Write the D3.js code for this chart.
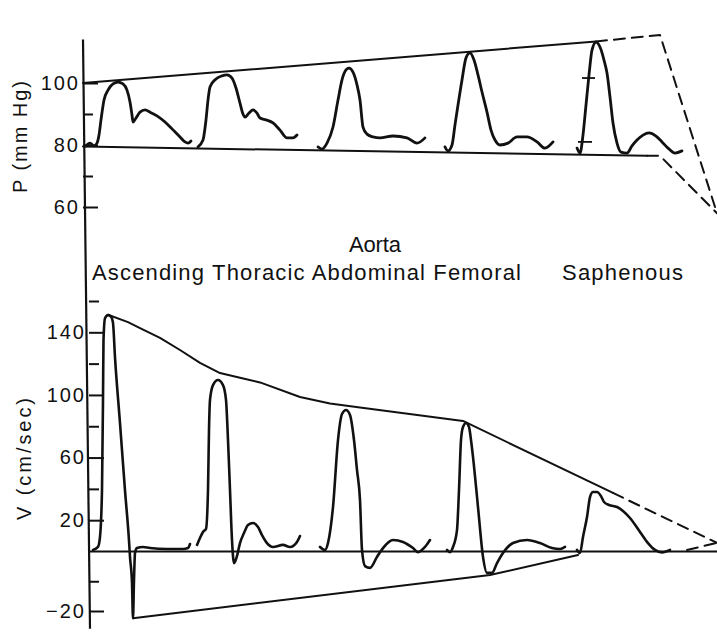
<!DOCTYPE html>
<html>
<head>
<meta charset="utf-8">
<script src="https://cdn.jsdelivr.net/npm/d3@7"></script>
<style>
    body { margin: 0; background: #fff; }
    svg { display: block; font-family: "Liberation Sans", Arial, Helvetica, sans-serif; }
</style>
</head>
<body>
<svg id="chart" width="717" height="637"></svg>
<script>
// sites along the arterial tree
var sites = ["Ascending", "Thoracic", "Abdominal", "Femoral", "Saphenous"];
var groupLabel = "Aorta";

// tick values
var pTicks = [100, 90, 80, 70, 60];
var pLabelled = [100, 80, 60];
var vTicks = [160, 140, 120, 100, 80, 60, 40, 20, -10, -20];
var vLabelled = [140, 100, 60, 20, -20];

// pressure traces, [position along record, mm Hg]
var pAscending = [[3, 79.7], [7, 80.6], [11, 79.7], [14, 80.6], [16, 83.2], [18, 88.1], [21, 94.5], [25, 97.7], [30, 99.7], [35, 100.3], [40, 99.7], [44, 97.7], [47, 93.9], [49, 89.7], [50, 87.4], [53, 88.7], [57, 90.6], [62, 91.3], [67, 90.6], [74, 89.4], [82, 87.4], [89, 85.2], [97, 82.6], [102, 81.0], [105, 80.6], [108, 81.3]];
var pThoracic = [[115, 79.4], [120, 81.6], [123, 88.1], [125, 94.5], [127, 98.7], [133, 101.3], [139, 102.3], [144, 102.6], [149, 101.6], [153, 98.4], [157, 93.5], [160, 90.0], [162, 89.0], [166, 90.3], [170, 91.3], [174, 90.3], [177, 88.7], [183, 88.1], [190, 87.1], [197, 84.8], [204, 82.3], [210, 82.3], [214, 83.2]];
var pAbdominal = [[235, 79.4], [239, 78.7], [244, 80.6], [250, 85.8], [255, 94.5], [259, 101.0], [263, 104.2], [266, 104.8], [270, 103.5], [274, 99.4], [277, 94.5], [280, 85.8], [284, 83.5], [290, 82.6], [297, 82.3], [310, 82.9], [324, 82.3], [334, 80.6], [342, 82.3]];
var pFemoral = [[362, 79.4], [365, 78.1], [369, 80.0], [372, 86.5], [375, 92.9], [379, 101.0], [383, 108.1], [387, 109.7], [391, 107.4], [395, 102.6], [399, 97.1], [404, 90.6], [408, 84.8], [412, 81.6], [417, 80.0], [425, 80.6], [434, 82.6], [444, 82.6], [454, 81.0], [462, 79.0], [470, 81.0]];
var pSaphenous = [[494, 79.0], [497, 77.4], [500, 83.2], [503, 92.9], [506, 102.6], [509, 110.6], [513, 113.2], [517, 111.6], [521, 107.4], [524, 103.2], [527, 95.5], [530, 87.1], [534, 80.6], [538, 77.7], [544, 77.4], [549, 79.7], [554, 81.6], [560, 83.2], [566, 83.9], [573, 82.9], [579, 81.0], [585, 79.0], [592, 77.4], [599, 78.1]];
var pCalMarks = [[499, 512, 101.6], [495, 509, 81.0]];

// pressure envelopes
var pUpper = [[0, 100], [513, 113.4]];
var pUpperDash = [[513, 113.4], [577, 115.5], [634, 58]];
var pLower = [[0, 79.5], [564, 76.5]];
var pLowerDash = [[564, 76.5], [577, 76.5], [634, 58]];

// velocity traces, [position along record, cm/sec]
var vAscending = [[10, 1.0], [15, 2.9], [17, 9.3], [19, 39.3], [20, 96.8], [20.5, 135], [22, 149], [25, 151], [28, 150], [30, 146], [32, 124], [37, 82], [42, 39], [46, 7], [47, -1.8], [49, -10.6], [50, -22.4], [51, -9.6], [52, -0.5], [54, 2.2], [60, 2.9], [67, 2.2], [84, 1.6], [100, 1.6], [105, 2.2], [107, 4.8]];
var vThoracic = [[114, 4.2], [117, 8.6], [120, 12.5], [123, 14.4], [125, 39.3], [126, 77.6], [127, 96.8], [130, 106.3], [135, 109.5], [140, 106.3], [143, 96.8], [145, 71.2], [147, 39.3], [149, 7.3], [151, -3.9], [154, -1.5], [157, 5.4], [161, 11.8], [165, 16.9], [170, 18.2], [175, 15.6], [179, 10.5], [184, 5.4], [190, 2.9], [200, 4.2], [207, 2.9], [214, 6.1], [217, 9.9]];
var vAbdominal = [[237, 2.9], [242, 1.0], [245, 5.4], [250, 28.4], [255, 71.2], [259, 87.8], [263, 90.4], [267, 87.2], [271, 71.2], [274, 52.1], [277, 32.9], [279, 1.0], [282, -4.9], [287, -5.5], [294, -1.8], [300, 2.2], [310, 7.3], [320, 6.1], [330, 2.2], [335, -0.2], [342, 2.9], [347, 7.3]];
var vFemoral = [[364, 1.0], [367, -0.2], [370, 2.9], [374, 13.7], [376, 39.3], [378, 71.2], [380, 79.5], [383, 82.1], [386, 79.5], [388, 71.2], [390, 60.4], [395, 28.4], [400, -1.8], [404, -7.2], [409, -7.2], [414, -3.9], [420, -0.5], [430, 5.4], [444, 7.3], [457, 5.4], [469, 2.2], [477, 1.6], [482, 2.9]];
var vSaphenous = [[494, 1.0], [497, -0.5], [500, 9.3], [504, 22], [507, 34.8], [510, 38.0], [514, 38.0], [518, 35.4], [521, 31.6], [526, 29.7], [534, 28.4], [540, 25.9], [547, 21.4], [557, 12.5], [565, 5.4], [572, 1.0], [579, -0.3], [587, 1.0]];

// velocity envelopes
var vUpper = [[25, 151.2], [45, 146.5], [57, 142.7], [77, 136.5], [97, 128.7], [117, 120.5], [137, 114.0], [157, 111.0], [177, 108.0], [217, 98.7], [247, 94.5], [277, 92.0], [380, 83.4], [530, 37.4]];
var vUpperDash = [[530, 37.4], [634, 5.5]];
var vLowerDash = [[604, 1.0], [634, 5.5]];
var vLower = [[50, -22.4], [407, -7.9], [495, -1.2]];
var vZero = [[6, 0], [634, 0]];

var svg = d3.select("#chart");
var ink = "#111";

var x = d3.scaleLinear().domain([0, 634]).range([83, 717]);
var yP = d3.scaleLinear().domain([60, 100]).range([207, 83]);
// the negative side of the velocity axis is drawn at a larger scale
var yV = d3.scaleLinear().domain([-20, 0, 160]).range([611, 551.5, 301]);

var traceP = d3.line().x(d => x(d[0])).y(d => yP(d[1])).curve(d3.curveMonotoneX);
var traceV = d3.line().x(d => x(d[0])).y(d => yV(d[1])).curve(d3.curveMonotoneX);
var edgeP = d3.line().x(d => x(d[0])).y(d => yP(d[1]));
var edgeV = d3.line().x(d => x(d[0])).y(d => yV(d[1]));

function drawAxis(scale, ticks, labelled, xPos) {
    var g = svg.append("g").attr("transform", "translate(" + xPos + ",0)")
        .call(d3.axisLeft(scale).tickValues(ticks).tickSize(-15).tickPadding(3)
            .tickFormat(d => labelled.indexOf(d) >= 0 ? String(d).replace("-", "\u2212") : ""));
    g.select(".domain").remove();
    g.selectAll(".tick line").attr("stroke", ink).attr("stroke-width", 2);
    g.selectAll(".tick").filter(d => labelled.indexOf(d) < 0).select("line").attr("x2", 10);
    g.selectAll(".tick text").attr("fill", ink)
        .attr("font-family", "Liberation Sans, Arial, sans-serif")
        .attr("font-size", 20).style("letter-spacing", "2px");
}

drawAxis(yP, pTicks, pLabelled, x(0));
drawAxis(yV, vTicks, vLabelled, x(6));

// one long vertical axis for both panels
svg.append("line")
    .attr("x1", x(0)).attr("y1", yP(114))
    .attr("x2", x(7)).attr("y2", yV(-26))
    .attr("stroke", ink).attr("stroke-width", 2.2);

function path(data, gen, w, dash) {
    svg.append("path").attr("d", gen(data))
        .attr("fill", "none").attr("stroke", ink)
        .attr("stroke-width", w).attr("stroke-linejoin", "round").attr("stroke-linecap", "round")
        .attr("stroke-dasharray", dash || null);
}

// envelopes
path(pUpper, edgeP, 2);
path(pLower, edgeP, 2);
path(pUpperDash, edgeP, 2, "11,7");
path(pLowerDash, edgeP, 2, "11,7");
path(vZero, edgeV, 2);
path(vUpper, edgeV, 2);
path(vUpperDash, edgeV, 2, "11,7");
path(vLowerDash, edgeV, 2, "11,7");
path(vLower, edgeV, 2);

// waveforms
[pAscending, pThoracic, pAbdominal, pFemoral, pSaphenous].forEach(function (d) {
    path(d, traceP, 2.8);
});
[vAscending, vThoracic, vAbdominal, vFemoral, vSaphenous].forEach(function (d) {
    path(d, traceV, 2.6);
});

// calibration marks on the saphenous upstroke
pCalMarks.forEach(function (m) {
    svg.append("line")
        .attr("x1", x(m[0])).attr("x2", x(m[1]))
        .attr("y1", yP(m[2])).attr("y2", yP(m[2]))
        .attr("stroke", ink).attr("stroke-width", 1.8);
});

// axis titles
svg.append("text").attr("transform", "translate(27,137) rotate(-90)")
    .attr("text-anchor", "middle").attr("fill", ink).style("font-size", "20px")
    .attr("textLength", 112).attr("lengthAdjust", "spacing")
    .text("P (mm Hg)");
svg.append("text").attr("transform", "translate(31,459) rotate(-90)")
    .attr("text-anchor", "middle").attr("fill", ink).style("font-size", "20px")
    .attr("textLength", 122).attr("lengthAdjust", "spacing")
    .text("V (cm/sec)");

// site names
svg.append("text").attr("x", 375).attr("y", 252)
    .attr("text-anchor", "middle").attr("fill", ink).style("font-size", "22px")
    .attr("textLength", 52).attr("lengthAdjust", "spacing")
    .text(groupLabel);
svg.append("text").attr("x", 92).attr("y", 280)
    .attr("fill", ink).style("font-size", "22px")
    .attr("textLength", 429).attr("lengthAdjust", "spacing")
    .text(sites.slice(0, 4).join(" "));
svg.append("text").attr("x", 562).attr("y", 280)
    .attr("fill", ink).style("font-size", "22px")
    .attr("textLength", 121).attr("lengthAdjust", "spacing")
    .text(sites[4]);
</script>
</body>
</html>
